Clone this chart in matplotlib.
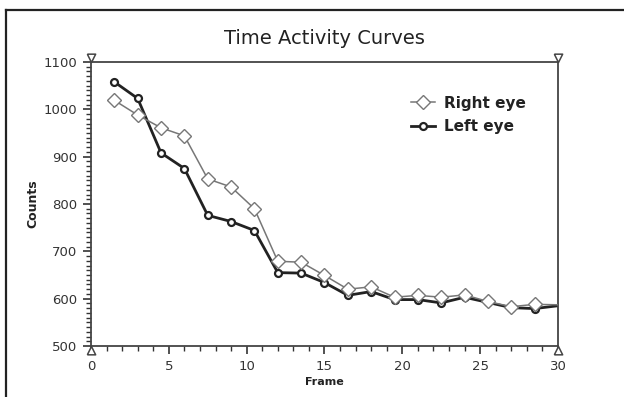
import matplotlib.pyplot as plt
import numpy as np
from matplotlib.lines import Line2D
from matplotlib.ticker import MultipleLocator

# frames sampled every 1.5
frames = [1.5, 3, 4.5, 6, 7.5, 9, 10.5, 12, 13.5, 15,
          16.5, 18, 19.5, 21, 22.5, 24, 25.5, 27, 28.5, 30]
right_eye = [1019, 988, 961, 944, 853, 836, 790, 679, 677, 649,
             620, 625, 603, 607, 603, 608, 594, 583, 588, 587]
left_eye = [1058, 1023, 908, 875, 776, 763, 744, 655, 654, 634,
            607, 615, 598, 598, 591, 603, 592, 581, 579, 585]

plt.rcParams['font.family'] = ['DejaVu Sans']

fig = plt.figure(figsize=(6.24, 3.97), dpi=100)
ax = fig.add_axes([0.1458, 0.1285, 0.7484, 0.7153])

# last sample sits on the right frame, no marker drawn there
marks = list(range(len(frames) - 1))
ax.plot(frames, right_eye, color='#777777', lw=1.1, marker='D', markersize=7.5,
        markerfacecolor='white', markeredgecolor='#777777', markeredgewidth=1.0,
        markevery=marks, label='Right eye', zorder=3)
ax.plot(frames, left_eye, color='#222222', lw=2.0, marker='o', markersize=5,
        markerfacecolor='white', markeredgecolor='#222222', markeredgewidth=1.6,
        markevery=marks, label='Left eye', zorder=2)

ax.set_xlim(0, 30)
ax.set_ylim(500, 1100)
ax.xaxis.set_major_locator(MultipleLocator(5))
ax.xaxis.set_minor_locator(MultipleLocator(1))
ax.yaxis.set_major_locator(MultipleLocator(100))
ax.yaxis.set_minor_locator(MultipleLocator(10))
ax.tick_params(which='major', direction='out', length=6, width=1.2, labelsize=9.5,
               color='#333333', labelcolor='#333333', pad=4)
ax.tick_params(which='minor', direction='out', length=3.5, width=1.0, color='#333333')
for s in ax.spines.values():
    s.set_color('#444444')
    s.set_linewidth(1.3)

ax.set_title('Time Activity Curves', fontsize=14, color='#222222', pad=13)
ax.set_xlabel('Frame', fontsize=8, fontweight='bold', labelpad=3, color='#222222')
ax.set_ylabel('Counts', fontsize=9, fontweight='bold', labelpad=3, color='#222222')

leg = ax.legend(loc='upper left', bbox_to_anchor=(0.655, 0.93), frameon=False,
                prop={'size': 11, 'weight': 'bold'}, handlelength=1.6,
                handletextpad=0.6, labelspacing=0.55)
for t in leg.get_texts():
    t.set_color('#222222')

# corner triangle markers, apex touching the frame
down_tri = [(-1, 2), (1, 2), (0, 0), (-1, 2)]
up_tri = [(-1, -2), (1, -2), (0, 0), (-1, -2)]
for xc in (0, 1):
    ax.plot([xc], [1], marker=down_tri, markersize=12, markerfacecolor='white',
            markeredgecolor='#444444', markeredgewidth=1.1,
            transform=ax.transAxes, clip_on=False, zorder=5)
    ax.plot([xc], [0], marker=up_tri, markersize=12, markerfacecolor='white',
            markeredgecolor='#444444', markeredgewidth=1.1,
            transform=ax.transAxes, clip_on=False, zorder=5)

# outer frame of the figure (left and top edges)
fig.add_artist(Line2D([6 / 624, 6 / 624], [0, 1 - 10 / 397], color='#222222',
                      lw=1.6, transform=fig.transFigure))
fig.add_artist(Line2D([6 / 624, 1], [1 - 10 / 397, 1 - 10 / 397], color='#222222',
                      lw=1.6, transform=fig.transFigure))

fig.savefig('out.png', dpi=100)
